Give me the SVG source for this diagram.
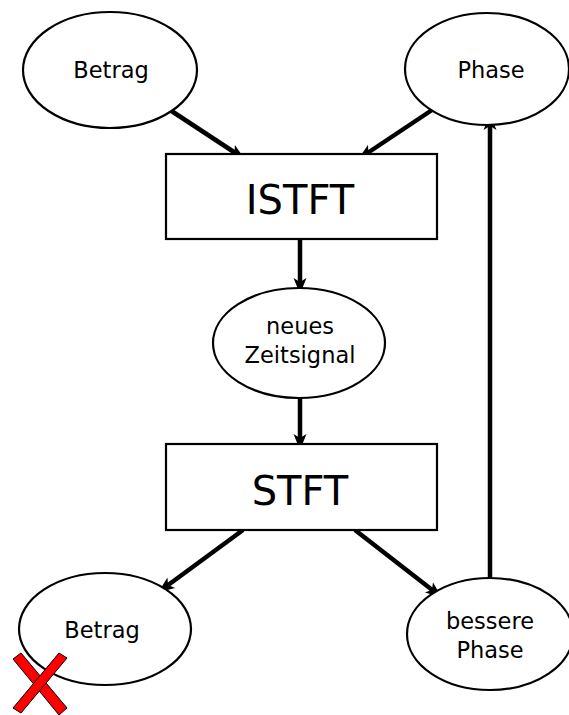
<svg xmlns="http://www.w3.org/2000/svg" width="569" height="715" viewBox="0 0 569 715">
<style>
.n{fill:#fff;stroke:#000;stroke-width:2.2}
.t{font-family:"DejaVu Sans",sans-serif;font-size:22.5px;text-anchor:middle;fill:#000}
.b{font-family:"DejaVu Sans",sans-serif;font-size:40px;text-anchor:middle;fill:#000}
.c{stroke:#000;stroke-width:4.5;fill:none;marker-end:url(#ah)}
</style>
<defs>
<marker id="ah" markerWidth="16" markerHeight="16" refX="14" refY="8" orient="auto" markerUnits="userSpaceOnUse">
<path d="M0,1.5 L16,8 L0,14.5 L4,8 Z" fill="#000"/>
</marker>
</defs>
<g id="connectors">
<line class="c" x1="170" y1="110" x2="243" y2="158"/>
<line class="c" x1="432" y1="110" x2="360" y2="158"/>
<line class="c" x1="300" y1="239" x2="300" y2="292"/>
<line class="c" x1="300" y1="398" x2="300" y2="448"/>
<line class="c" x1="243" y1="530" x2="160" y2="591"/>
<line class="c" x1="355" y1="530" x2="440" y2="596"/>
<line class="c" x1="490" y1="578" x2="490" y2="116"/>
</g>
<g id="betrag1"><ellipse class="n" cx="110" cy="70" rx="87" ry="58"/><text class="t" x="111" y="78">Betrag</text></g>
<g id="phase1"><ellipse class="n" cx="487" cy="69" rx="82" ry="56"/><text class="t" x="491" y="78">Phase</text></g>
<g id="istft"><rect class="n" x="166" y="154" width="271" height="85"/><text class="b" x="300" y="214">ISTFT</text></g>
<g id="neues"><ellipse class="n" cx="299" cy="343" rx="86" ry="55"/><text class="t" x="300" y="334">neues</text><text class="t" x="300" y="363">Zeitsignal</text></g>
<g id="stft"><rect class="n" x="166" y="444" width="271" height="86"/><text class="b" x="300" y="505">STFT</text></g>
<g id="betrag2"><ellipse class="n" cx="105" cy="629" rx="86" ry="56"/><text class="t" x="102" y="638">Betrag</text></g>
<g id="bessere"><ellipse class="n" cx="490" cy="634" rx="83" ry="56"/><text class="t" x="490" y="629">bessere</text><text class="t" x="490" y="658">Phase</text></g>
<g id="cross" fill="#f00" stroke="#000" stroke-width="1">
<polygon points="13,659 21,653 67,708 59,715"/>
<polygon points="59,653 67,658 21,713 13,708"/>
</g>
</svg>
